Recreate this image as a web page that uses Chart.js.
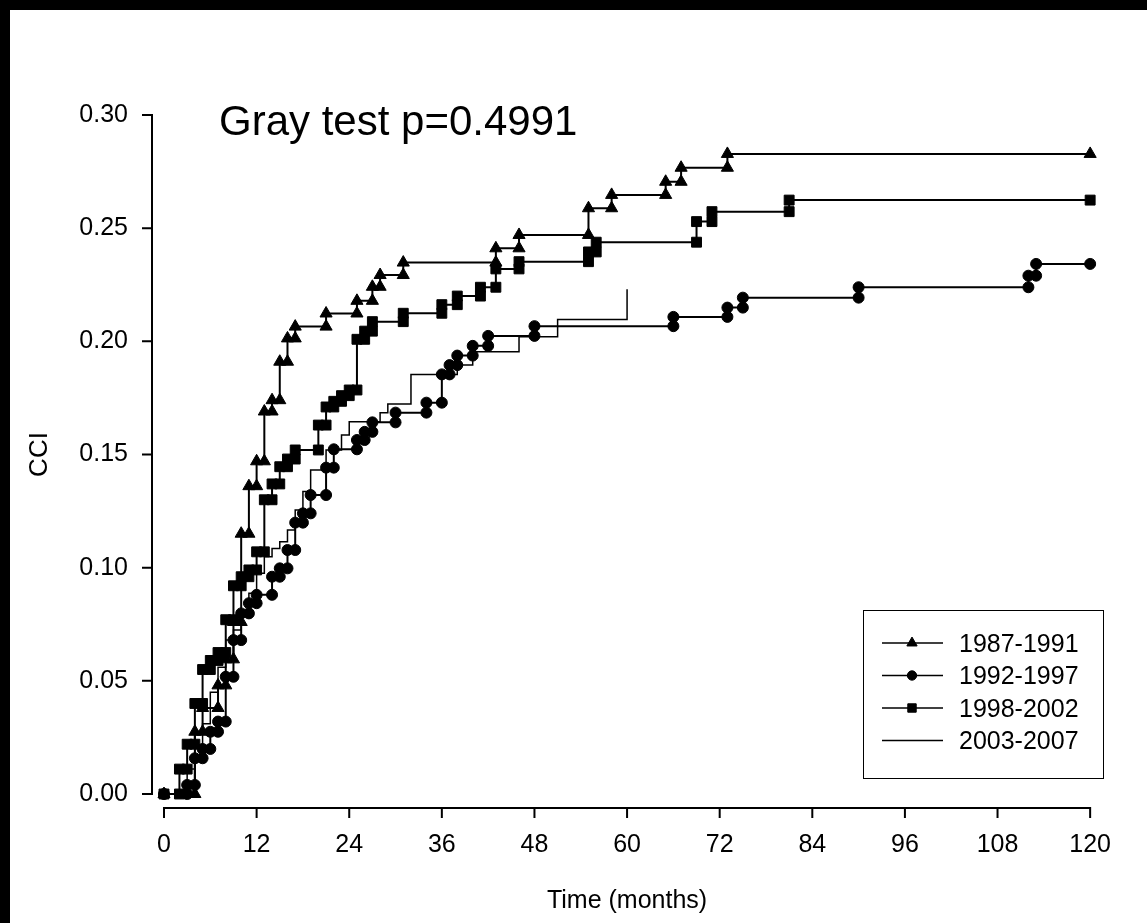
<!DOCTYPE html>
<html>
<head>
<meta charset="utf-8">
<title>CCI by period</title>
<script src="https://cdn.jsdelivr.net/npm/chart.js@4.4.0/dist/chart.umd.min.js"></script>
<style>
  html, body { margin: 0; padding: 0; background: #000; }
  #cci-chart {
    position: absolute;
    left: 10px;
    top: 10px;
    background: #fff;
  }
</style>
</head>
<body>
<canvas id="cci-chart" width="1137" height="913"></canvas>
<script>
// Cumulative incidence step data: event month and CCI after the step
const months1987 = [0, 4, 5, 7, 8, 9, 10, 11, 12, 13, 14, 15, 16, 17, 21, 25, 27, 28, 31, 43, 46, 55, 58, 65, 67, 73, 120];
const cci1987 = [0, 0.0275, 0.038, 0.048, 0.0595, 0.076, 0.115, 0.136, 0.147, 0.169, 0.174, 0.191, 0.2013, 0.2065, 0.2123, 0.2179, 0.2241, 0.2293, 0.2348, 0.2411, 0.247, 0.2588, 0.2647, 0.2705, 0.2767, 0.2828, 0.2828];

const months1992 = [0, 3, 4, 5, 6, 7, 8, 9, 10, 11, 12, 14, 15, 16, 17, 18, 19, 21, 22, 25, 26, 27, 30, 34, 36, 37, 38, 40, 42, 48, 66, 73, 75, 90, 112, 113, 120];
const cci1992 = [0, 0.004, 0.0158, 0.0199, 0.0275, 0.032, 0.0518, 0.068, 0.0798, 0.0843, 0.088, 0.096, 0.0997, 0.1078, 0.1199, 0.124, 0.1321, 0.1442, 0.1523, 0.1564, 0.16, 0.1642, 0.1685, 0.1729, 0.1854, 0.1895, 0.1937, 0.198, 0.2024, 0.2067, 0.2108, 0.2149, 0.2193, 0.2239, 0.229, 0.2342, 0.2342];

const months1998 = [0, 2, 3, 4, 5, 6, 7, 8, 9, 10, 11, 12, 13, 14, 15, 16, 17, 20, 21, 22, 23, 24, 25, 26, 27, 31, 36, 38, 41, 43, 46, 55, 56, 69, 71, 81, 120];
const cci1998 = [0, 0.011, 0.022, 0.040, 0.055, 0.059, 0.0625, 0.077, 0.092, 0.096, 0.099, 0.107, 0.130, 0.137, 0.1446, 0.148, 0.152, 0.163, 0.171, 0.1735, 0.176, 0.1785, 0.2009, 0.2045, 0.2087, 0.2124, 0.2162, 0.220, 0.2239, 0.232, 0.2352, 0.2395, 0.2438, 0.2529, 0.2573, 0.2624, 0.2624];

const months2003 = [0, 3, 4, 5, 6, 7, 8, 9, 10, 11, 12, 13, 14, 15, 16, 17, 18, 19, 21, 23, 24, 28, 29, 32, 38, 40, 46, 51, 60];
const cci2003 = [0, 0.011, 0.021, 0.031, 0.045, 0.056, 0.068, 0.0725, 0.080, 0.0887, 0.0975, 0.1048, 0.1085, 0.1115, 0.1166, 0.1255, 0.1336, 0.1432, 0.152, 0.1586, 0.1645, 0.1685, 0.1723, 0.1854, 0.1895, 0.1954, 0.202, 0.2097, 0.223];

const periodLabels = ["1987-1991", "1992-1997", "1998-2002", "2003-2007"];
const yTicks = [0, 0.05, 0.1, 0.15, 0.2, 0.25, 0.3];
const grayTest = "Gray test p=0.4991";

const FONT = "Arial, 'Liberation Sans', sans-serif";
Chart.defaults.font.family = FONT;
Chart.defaults.color = "#000";

// Turn (month, value) pairs into corner points of a step curve
function toSteps(months, values) {
  const pts = [{ x: months[0], y: values[0] }];
  for (let i = 1; i < months.length; i++) {
    if (values[i] !== values[i - 1]) {
      pts.push({ x: months[i], y: values[i - 1] });
    }
    pts.push({ x: months[i], y: values[i] });
  }
  return pts;
}

function drawMarker(ctx, style, x, y, r) {
  ctx.beginPath();
  if (style === "triangle") {
    ctx.moveTo(x, y - r);
    ctx.lineTo(x + r * 0.866, y + r / 2);
    ctx.lineTo(x - r * 0.866, y + r / 2);
    ctx.closePath();
  } else if (style === "circle") {
    ctx.arc(x, y, r, 0, Math.PI * 2);
  } else if (style === "rect") {
    const s = r * Math.SQRT1_2;
    ctx.rect(x - s, y - s, 2 * s, 2 * s);
  } else {
    return;
  }
  ctx.fill();
  ctx.stroke();
}

// Axes sit slightly away from the plot area, so draw them by hand
const offsetAxes = {
  id: "offsetAxes",
  afterDraw(chart) {
    const { ctx, chartArea } = chart;
    const xs = chart.scales.x;
    const ys = chart.scales.y;
    const ax = chartArea.left - 12;
    const ay = chartArea.bottom + 14;
    const top = ys.getPixelForValue(ys.max);
    const bottom = ys.getPixelForValue(ys.min);
    const left = xs.getPixelForValue(xs.min);
    const right = xs.getPixelForValue(xs.max);

    ctx.save();
    ctx.strokeStyle = "#000";
    ctx.lineWidth = 2;
    ctx.beginPath();
    ctx.moveTo(ax, top);
    ctx.lineTo(ax, bottom);
    ys.ticks.forEach((t) => {
      const py = ys.getPixelForValue(t.value);
      ctx.moveTo(ax - 10, py);
      ctx.lineTo(ax + 1, py);
    });
    ctx.moveTo(left, ay);
    ctx.lineTo(right, ay);
    xs.ticks.forEach((t) => {
      const px = xs.getPixelForValue(t.value);
      ctx.moveTo(px, ay - 1);
      ctx.lineTo(px, ay + 10);
    });
    ctx.stroke();
    ctx.restore();
  },
};

const testLabel = {
  id: "testLabel",
  afterDraw(chart) {
    const { ctx } = chart;
    ctx.save();
    ctx.fillStyle = "#000";
    ctx.font = "42px " + FONT;
    ctx.textBaseline = "alphabetic";
    ctx.fillText(grayTest, 209, 125);
    ctx.restore();
  },
};

// Boxed legend inside the lower right of the plot
const boxLegend = {
  id: "boxLegend",
  afterDraw(chart) {
    const { ctx } = chart;
    const bx = 853, by = 600, bw = 240, bh = 168;
    ctx.save();
    ctx.fillStyle = "#fff";
    ctx.fillRect(bx, by, bw, bh);
    ctx.strokeStyle = "#000";
    ctx.lineWidth = 1;
    ctx.strokeRect(bx + 0.5, by + 0.5, bw, bh);

    ctx.font = "25px " + FONT;
    ctx.textBaseline = "middle";
    chart.data.datasets.forEach((ds, i) => {
      const ry = by + 33 + i * 32.5;
      ctx.strokeStyle = "#000";
      ctx.fillStyle = "#000";
      ctx.lineWidth = 1.6;
      ctx.beginPath();
      ctx.moveTo(bx + 19, ry);
      ctx.lineTo(bx + 80, ry);
      ctx.stroke();
      ctx.lineWidth = 1;
      drawMarker(ctx, ds.pointStyle, bx + 49, ry, ds.pointRadius * 0.85);
      ctx.fillText(ds.label, bx + 96, ry + 2);
    });
    ctx.restore();
  },
};

function makeSeries(label, months, values, style, radius, width, order) {
  return {
    label: label,
    data: toSteps(months, values),
    borderColor: "#000",
    backgroundColor: "#000",
    borderWidth: width,
    pointStyle: style,
    pointRadius: radius,
    pointBackgroundColor: "#000",
    pointBorderColor: "#000",
    pointBorderWidth: 1,
    pointHoverRadius: radius,
    tension: 0,
    clip: false,
    order: order,
  };
}

function displayChart() {
  const ctx = document.getElementById("cci-chart").getContext("2d");

  new Chart(ctx, {
    type: "line",
    data: {
      datasets: [
        makeSeries(periodLabels[0], months1987, cci1987, "triangle", 7, 2, 1),
        makeSeries(periodLabels[1], months1992, cci1992, "circle", 5.5, 2, 0),
        makeSeries(periodLabels[2], months1998, cci1998, "rect", 7, 2, 1),
        makeSeries(periodLabels[3], months2003, cci2003, false, 0, 1.5, 1),
      ],
    },
    options: {
      responsive: false,
      animation: false,
      events: [],
      layout: { padding: { top: 105, right: 38, left: 0, bottom: 0 } },
      plugins: {
        legend: { display: false },
        tooltip: { enabled: false },
      },
      scales: {
        x: {
          type: "linear",
          min: 0,
          max: 120,
          grid: { display: false, drawTicks: false },
          border: { display: false },
          ticks: {
            stepSize: 12,
            autoSkip: false,
            maxRotation: 0,
            padding: 36,
            font: { size: 25 },
            color: "#000",
          },
          title: {
            display: true,
            text: "Time (months)",
            font: { size: 25 },
            color: "#000",
            padding: { top: 0, bottom: 7 },
          },
          afterFit: (scale) => {
            scale.height = 129;
          },
        },
        y: {
          type: "linear",
          min: 0,
          max: 0.3,
          grid: { display: false, drawTicks: false },
          border: { display: false },
          afterBuildTicks: (scale) => {
            scale.ticks = yTicks.map((v) => ({ value: v }));
          },
          ticks: {
            padding: 36,
            font: { size: 25 },
            color: "#000",
            callback: (v) => Number(v).toFixed(2),
          },
          title: {
            display: true,
            text: "CCI",
            font: { size: 26 },
            color: "#000",
            padding: { top: 14, bottom: 0 },
          },
          afterFit: (scale) => {
            scale.width = 154;
          },
        },
      },
    },
    plugins: [offsetAxes, testLabel, boxLegend],
  });
}

document.addEventListener("DOMContentLoaded", displayChart);
</script>
</body>
</html>
